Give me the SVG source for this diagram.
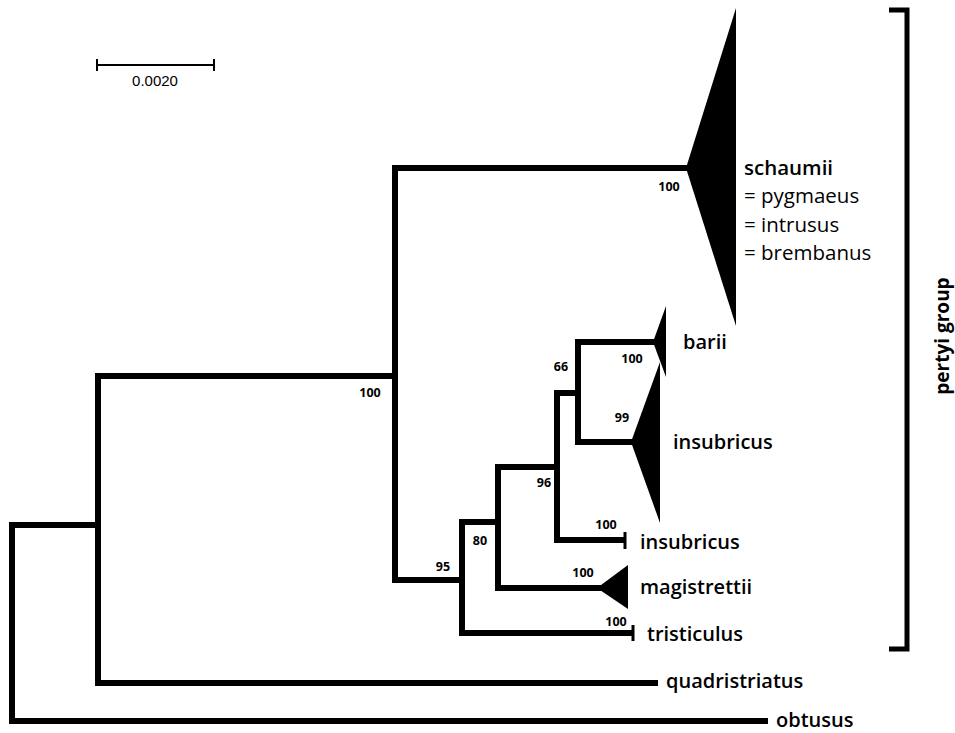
<svg xmlns="http://www.w3.org/2000/svg" width="955" height="733" viewBox="0 0 955 733">
<style>
.br{fill:none;stroke:#000;stroke-width:6;stroke-linecap:square;stroke-linejoin:miter}
.tri{fill:#000;stroke:none}
.lab{font-family:"Open Sans","Liberation Sans",sans-serif;font-size:20px;font-weight:600;fill:#000}
.syn{font-family:"Open Sans","Liberation Sans",sans-serif;font-size:20.5px;font-weight:400;fill:#000}
.bs{font-family:"Open Sans","Liberation Sans",sans-serif;font-size:12.5px;font-weight:700;fill:#000;text-anchor:middle}
.sc{font-family:"Liberation Sans",Arial,sans-serif;font-size:15px;fill:#000;text-anchor:middle}
</style>
<rect width="955" height="733" fill="#fff"/>
<g id="connectors">
<path class="br" d="M765,721 H12 V525 H98"/>
<path class="br" d="M655,683 H98 V376 H395"/>
<path class="br" d="M688,168 H395 V580 H462"/>
<path class="br" d="M631,633 H462 V522 H498"/>
<path class="br" d="M600,588 H498 V467 H557"/>
<path class="br" d="M623,540 H557 V393 H578"/>
<path class="br" d="M655,342 H578 V442 H633"/>
</g>
<g id="scale">
<path d="M97,65 H214 M97,59 V71 M214,59 V71" fill="none" stroke="#000" stroke-width="2"/>
<text class="sc" x="155" y="86">0.0020</text>
</g>
<g id="schaumii">
<polygon class="tri" points="686,168 736,8 736,326"/>
<text class="bs" x="669" y="191">100</text>
<text class="lab" x="744" y="175" style="font-size:20.5px">schaumii</text>
<text class="syn" x="744" y="203">= pygmaeus</text>
<text class="syn" x="744" y="232">= intrusus</text>
<text class="syn" x="744" y="260">= brembanus</text>
</g>
<g id="barii">
<polygon class="tri" points="653,342 666,306 666,377"/>
<text class="bs" x="632" y="363">100</text>
<text class="lab" x="683" y="349">barii</text>
</g>
<g id="insubricus1">
<polygon class="tri" points="631,442 660,362 660,523"/>
<text class="bs" x="622" y="422">99</text>
<text class="lab" x="673" y="449">insubricus</text>
</g>
<g id="insubricus2">
<path d="M625,532 V549" stroke="#000" stroke-width="3"/>
<text class="bs" x="606" y="529">100</text>
<text class="lab" x="640" y="549">insubricus</text>
</g>
<g id="magistrettii">
<polygon class="tri" points="597,588 628,565 628,609"/>
<text class="bs" x="583" y="577">100</text>
<text class="lab" x="640" y="594">magistrettii</text>
</g>
<g id="tristiculus">
<path d="M633,625 V641" stroke="#000" stroke-width="3"/>
<text class="bs" x="616" y="626">100</text>
<text class="lab" x="647" y="641">tristiculus</text>
</g>
<g id="quadristriatus">
<text class="lab" x="666" y="688">quadristriatus</text>
</g>
<g id="obtusus">
<text class="lab" x="776" y="727">obtusus</text>
</g>
<g id="supports">
<text class="bs" x="370" y="397">100</text>
<text class="bs" x="561" y="371">66</text>
<text class="bs" x="544" y="487">96</text>
<text class="bs" x="480" y="545">80</text>
<text class="bs" x="443" y="571">95</text>
</g>
<g id="pertyi-group">
<path d="M889,10 H907 V649 H889" fill="none" stroke="#000" stroke-width="5"/>
<text class="lab" transform="translate(949,336) rotate(-90)" text-anchor="middle" style="font-size:19px;font-weight:700">pertyi  group</text>
</g>
</svg>
